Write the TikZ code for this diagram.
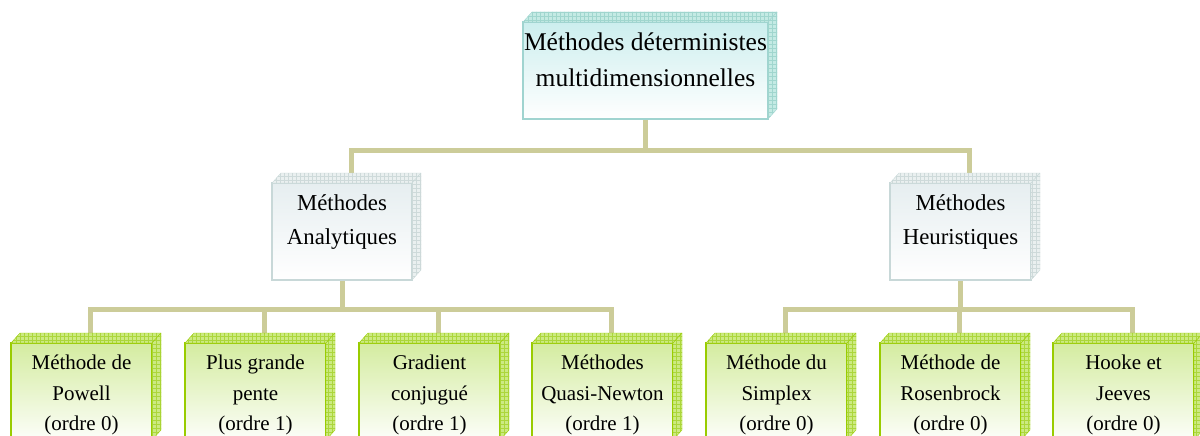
\documentclass[tikz,border=0pt]{standalone}
\usepackage{fontspec}
\setmainfont{Liberation Serif}
\usetikzlibrary{patterns}
\pgfdeclarelayer{bg}
\pgfsetlayers{bg,main}
\pgfdeclarepatternformonly{cellgrid}{\pgfqpoint{-1pt}{-1pt}}{\pgfqpoint{4pt}{4pt}}{\pgfqpoint{4pt}{4pt}}{%
  \pgfsetlinewidth{0.7pt}%
  \pgfpathmoveto{\pgfqpoint{0pt}{-0.1pt}}\pgfpathlineto{\pgfqpoint{0pt}{4.1pt}}%
  \pgfpathmoveto{\pgfqpoint{-0.1pt}{0pt}}\pgfpathlineto{\pgfqpoint{4.1pt}{0pt}}%
  \pgfusepath{stroke}}
\definecolor{conn}{RGB}{204,204,153}
\definecolor{topdraw}{RGB}{160,212,208}
\definecolor{topfill}{RGB}{204,238,238}
\definecolor{topface}{RGB}{196,234,228}
\definecolor{topgrid}{RGB}{160,214,206}
\definecolor{middraw}{RGB}{200,216,216}
\definecolor{midfill}{RGB}{230,238,240}
\definecolor{midface}{RGB}{234,240,240}
\definecolor{midgrid}{RGB}{206,218,218}
\definecolor{lowdraw}{RGB}{153,204,0}
\definecolor{lowfill}{RGB}{212,236,160}
\definecolor{lowface}{RGB}{204,234,130}
\definecolor{lowgrid}{RGB}{172,214,60}
\newcommand\boxfaces[4]{%
  \path[preaction={fill=#2}, pattern=cellgrid, pattern color=#3, draw=#4, line join=round]
    (#1.north west) -- ([shift={(9,-10)}]#1.north west) -- ([shift={(9,-10)}]#1.north east) -- (#1.north east) -- cycle;
  \path[preaction={fill=#2}, pattern=cellgrid, pattern color=#3, draw=#4, line join=round]
    (#1.north east) -- ([shift={(9,-10)}]#1.north east) -- ([shift={(9,-10)}]#1.south east) -- (#1.south east) -- cycle;
  \coordinate (#1-t) at ([shift={(9,-10)}]#1.north);
}
\tikzset{
  front/.style={draw, rectangle, outer sep=0pt, inner sep=0pt},
  topbox/.style={front, draw=topdraw, line width=1.5pt, top color=topfill, bottom color=white, minimum width=245pt, minimum height=97pt},
  midbox/.style={front, draw=middraw, line width=1.5pt, top color=midfill, bottom color=white, minimum width=140pt, minimum height=97pt},
  lowbox/.style={front, draw=lowdraw, line width=2pt, top color=lowfill, bottom color=white!94!lowfill, minimum width=141pt, minimum height=97pt},
  toptext/.style={align=center, inner sep=0pt, font=\fontsize{25.5}{36}\selectfont},
  midtext/.style={align=center, inner sep=0pt, font=\fontsize{22.8}{34}\selectfont},
  lowtext/.style={align=center, inner sep=0pt, font=\fontsize{21}{30.5}\selectfont},
  conline/.style={draw=conn, line width=5pt},
}
\begin{document}
\begin{tikzpicture}[x=1pt, y=-1pt]
\useasboundingbox (0,0) rectangle (1200,436);
\clip (0,0) rectangle (1200,436);
% boxes
\node[topbox] (top) at (645.5,70.5) {};
\boxfaces{top}{topface}{topgrid}{topdraw}
\node[toptext] (top-l) at (645.5,60) {Méthodes déterministes\\multidimensionnelles};

\node[midbox] (mL) at (342,231.5) {};
\boxfaces{mL}{midface}{midgrid}{middraw}
\node[midtext] (mL-l) at (342,222) {Méthodes\\Analytiques};

\node[midbox, minimum width=141pt] (mR) at (960.5,231.5) {};
\boxfaces{mR}{midface}{midgrid}{middraw}
\node[midtext] (mR-l) at (960.5,222) {Méthodes\\Heuristiques};

\node[lowbox] (p1) at (81.5,391.5) {};
\boxfaces{p1}{lowface}{lowgrid}{lowdraw}
\node[lowtext] (p1-l) at (81.5,395) {Méthode de\\Powell\\(ordre 0)};

\node[lowbox] (p2) at (255.5,391.5) {};
\boxfaces{p2}{lowface}{lowgrid}{lowdraw}
\node[lowtext] (p2-l) at (255.5,395) {Plus grande\\pente\\(ordre 1)};

\node[lowbox] (p3) at (429.5,391.5) {};
\boxfaces{p3}{lowface}{lowgrid}{lowdraw}
\node[lowtext] (p3-l) at (429.5,395) {Gradient\\conjugué\\(ordre 1)};

\node[lowbox] (p4) at (602.5,391.5) {};
\boxfaces{p4}{lowface}{lowgrid}{lowdraw}
\node[lowtext] (p4-l) at (602.5,395) {Méthodes\\Quasi-Newton\\(ordre 1)};

\node[lowbox] (p5) at (776.5,391.5) {};
\boxfaces{p5}{lowface}{lowgrid}{lowdraw}
\node[lowtext] (p5-l) at (776.5,395) {Méthode du\\Simplex\\(ordre 0)};

\node[lowbox] (p6) at (950.5,391.5) {};
\boxfaces{p6}{lowface}{lowgrid}{lowdraw}
\node[lowtext] (p6-l) at (950.5,395) {Méthode de\\Rosenbrock\\(ordre 0)};

\node[lowbox] (p7) at (1123.5,391.5) {};
\boxfaces{p7}{lowface}{lowgrid}{lowdraw}
\node[lowtext] (p7-l) at (1123.5,395) {Hooke et\\Jeeves\\(ordre 0)};

% connectors
\coordinate (b0) at (645.5,150);
\coordinate (b1) at (342,309);
\coordinate (b2) at (960.5,309);
\begin{pgfonlayer}{bg}
\draw[conline] (top.south) -- (b0);
\draw[conline] (mL-t) |- (b0) -| (mR-t);
\draw[conline] (mL.south) -- (b1);
\draw[conline] (p1-t) |- (b1) -| (p4-t);
\draw[conline] (p2-t) -- (p2-t |- b1);
\draw[conline] (p3-t) -- (p3-t |- b1);
\draw[conline] (mR.south) -- (b2);
\draw[conline] (p5-t) |- (b2) -| (p7-t);
\draw[conline] (p6-t) -- (p6-t |- b2);
\end{pgfonlayer}
\end{tikzpicture}
\end{document}
